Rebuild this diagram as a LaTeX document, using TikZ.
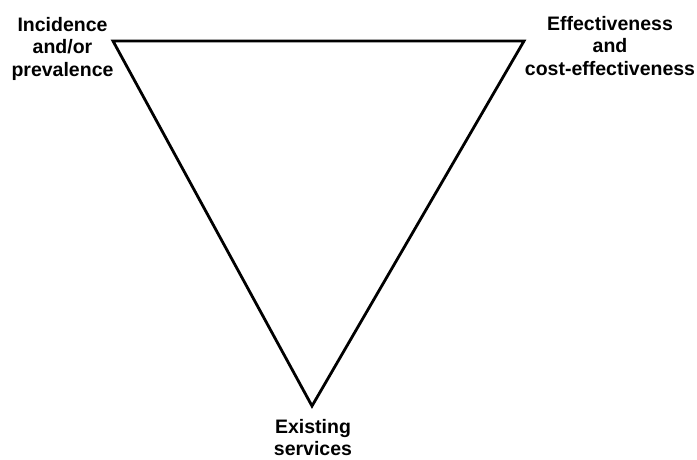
\documentclass[tikz,border=0pt]{standalone}
\usepackage{fontspec}
\setmainfont{Liberation Sans}
\begin{document}
\begin{tikzpicture}[x=1pt,y=-1pt,
  lbl/.style={align=center,inner sep=0pt,anchor=north,
    font=\bfseries\fontsize{19.5}{22.5}\selectfont},
  tri/.style={line width=2.8pt,line join=miter}]
\useasboundingbox (0,0) rectangle (697,459);
\coordinate (A) at (113,41);
\coordinate (B) at (524,41);
\coordinate (C) at (312,406);
\draw[tri] (A) -- (B) -- (C) -- cycle;
\node[lbl] (inc) at (62.5,17) {Incidence\\and/or\\prevalence};
\node[lbl] (eff) at (610,16) {Effectiveness\\and\\cost-effectiveness};
\node[lbl] (ex) at (313,419) {Existing\\services};
\end{tikzpicture}
\end{document}
